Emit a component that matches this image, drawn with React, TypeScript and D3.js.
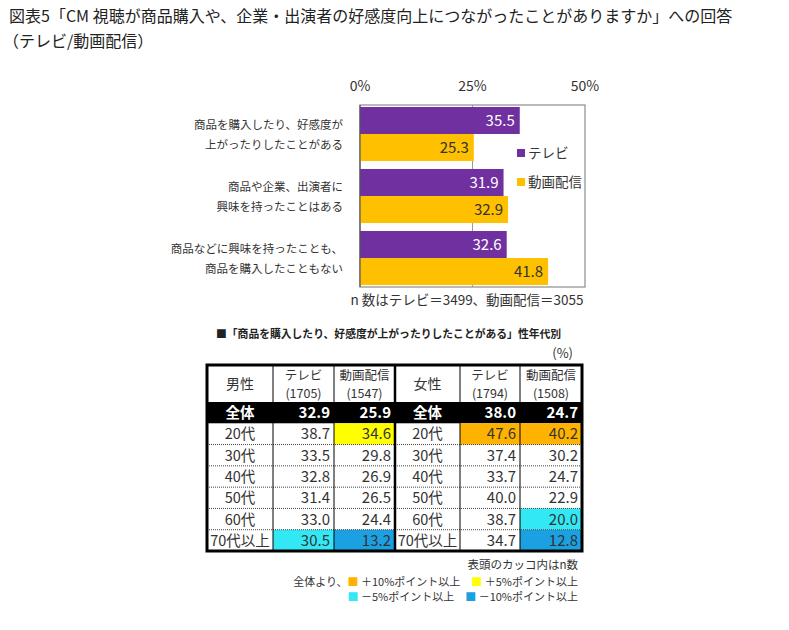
import React from 'react';
import * as d3 from 'd3';

const titleLine1 = '図表5「CM 視聴が商品購入や、企業・出演者の好感度向上につながったことがありますか」への回答';
const titleLine2 = '（テレビ/動画配信）';

const categories = ['c1', 'c2', 'c3'];
const categoryLabels = [
  ['商品を購入したり、好感度が', '上がったりしたことがある'],
  ['商品や企業、出演者に', '興味を持ったことはある'],
  ['商品などに興味を持ったことも、', '商品を購入したこともない'],
];
const seriesNames = ['テレビ', '動画配信'];
const tvValues = [35.5, 31.9, 32.6];
const vodValues = [25.3, 32.9, 41.8];
const xTicks = [0, 25, 50];
const nNote = 'n 数はテレビ＝3499、動画配信＝3055';

const tableTitle = '■「商品を購入したり、好感度が上がったりしたことがある」性年代別';
const ageGroups = ['全体', '20代', '30代', '40代', '50代', '60代', '70代以上'];
const maleTV = [32.9, 38.7, 33.5, 32.8, 31.4, 33.0, 30.5];
const maleVOD = [25.9, 34.6, 29.8, 26.9, 26.5, 24.4, 13.2];
const femaleTV = [38.0, 47.6, 37.4, 33.7, 40.0, 38.7, 34.7];
const femaleVOD = [24.7, 40.2, 30.2, 24.7, 22.9, 20.0, 12.8];
const headerGroups = ['男性', '女性'];
const headerSeries = [['テレビ', '(1705)'], ['動画配信', '(1547)'], ['テレビ', '(1794)'], ['動画配信', '(1508)']];

const FONT = '"Noto Sans CJK JP", "Noto Sans", sans-serif';
const PURPLE = '#7030A0';
const GOLD = '#FFC000';
const ORANGE = '#FFB300';
const YELLOW = '#FFFF00';
const CYAN = '#33E8F5';
const BLUE = '#1BA1E2';

function cellColor(v: number, base: number): string | null {
  const d = v - base;
  if (d >= 10) return ORANGE;
  if (d >= 5) return YELLOW;
  if (d <= -10) return BLUE;
  if (d <= -5) return CYAN;
  return null;
}

export default function App() {
  const x = d3.scaleLinear().domain([0, 50]).range([360, 585]);
  const y = d3.scaleBand().domain(categories).range([105, 287]).paddingInner(0.129).paddingOuter(0.032);
  const bh = y.bandwidth() / 2;

  // table layout
  const colX = [207, 273, 334, 395, 460, 520, 582];
  const headTop = 365;
  const headBottom = 402;
  const rowY = d3.scaleBand().domain(ageGroups).range([headBottom, 551]);
  const rh = rowY.bandwidth();
  const cols = [maleTV, maleVOD, femaleTV, femaleVOD];
  const valueCols = [1, 2, 4, 5];
  const baseFor = [tvValues[0], vodValues[0], tvValues[0], vodValues[0]];

  return (
    <svg width={789} height={630} style={{ position: 'absolute', left: 0, top: 0, background: '#fff' }} fontFamily={FONT}>
      <rect width={789} height={630} fill="#fff" />
      <text x={9} y={22} fontSize={16} fill="#222">{titleLine1}</text>
      <text x={3} y={47} fontSize={16} fill="#222">{titleLine2}</text>

      {/* bar chart */}
      {xTicks.map((t) => (
        <text key={t} x={x(t)} y={91} fontSize={14} textAnchor="middle" fill="#333">{t}%</text>
      ))}
      <rect x={x(0)} y={105} width={x(50) - x(0)} height={182} fill="none" stroke="#8c8c8c" strokeWidth={1.2} />
      <line x1={x(25)} x2={x(25)} y1={105} y2={287} stroke="#9a9a9a" strokeWidth={1} />
      {categories.map((c, i) => (
        <g key={c}>
          <rect x={x(0)} y={y(c)!} width={x(tvValues[i]) - x(0)} height={bh} fill={PURPLE} />
          <rect x={x(0)} y={y(c)! + bh} width={x(vodValues[i]) - x(0)} height={bh} fill={GOLD} />
          <text x={x(tvValues[i]) - 5} y={y(c)! + bh / 2 + 5.5} fontSize={15} textAnchor="end" fill="#fff">{tvValues[i].toFixed(1)}</text>
          <text x={x(vodValues[i]) - 5} y={y(c)! + bh * 1.5 + 5.5} fontSize={15} textAnchor="end" fill="#333">{vodValues[i].toFixed(1)}</text>
          <text x={343} y={y(c)! + bh - 5} fontSize={11.5} textAnchor="end" fill="#333">{categoryLabels[i][0]}</text>
          <text x={343} y={y(c)! + bh + 15} fontSize={11.5} textAnchor="end" fill="#333">{categoryLabels[i][1]}</text>
        </g>
      ))}
      <line x1={x(0)} x2={x(0)} y1={105} y2={287} stroke="#555" strokeWidth={1.2} />
      {seriesNames.map((s, i) => (
        <g key={s}>
          <rect x={517} y={149 + i * 29} width={8} height={8} fill={i === 0 ? PURPLE : GOLD} />
          <text x={528} y={158 + i * 29} fontSize={13.5} fill="#333">{s}</text>
        </g>
      ))}
      <text x={467} y={305} fontSize={13.5} textAnchor="middle" fill="#333">{nNote}</text>

      {/* table */}
      <text x={216} y={338} fontSize={10.8} fontWeight="bold" fill="#222">{tableTitle}</text>
      <text x={573} y={358} fontSize={13} textAnchor="end" fill="#333">(%)</text>

      {ageGroups.map((g, r) => {
        const ry = rowY(g)!;
        return (
          <g key={g}>
            {r === 0 && <rect x={colX[0]} y={ry} width={colX[6] - colX[0]} height={rh} fill="#000" />}
            {cols.map((col, ci) => {
              const c = r === 0 ? null : cellColor(col[r], baseFor[ci]);
              const cx0 = colX[valueCols[ci]];
              const cx1 = colX[valueCols[ci] + 1];
              return c ? <rect key={ci} x={cx0} y={ry} width={cx1 - cx0} height={rh} fill={c} /> : null;
            })}
          </g>
        );
      })}

      {/* dotted row separators */}
      {ageGroups.slice(2).map((g) => (
        <line key={g} x1={colX[0]} x2={colX[6]} y1={rowY(g)!} y2={rowY(g)!} stroke="#444" strokeWidth={1} strokeDasharray="1,1" />
      ))}
      {/* vertical thin lines */}
      {[1, 2, 4, 5].map((ci) => (
        <line key={ci} x1={colX[ci]} x2={colX[ci]} y1={headTop} y2={551} stroke="#000" strokeWidth={1} />
      ))}
      <line x1={colX[3]} x2={colX[3]} y1={headTop} y2={551} stroke="#000" strokeWidth={2.5} />
      <rect x={colX[0]} y={headTop} width={colX[6] - colX[0]} height={551 - headTop} fill="none" stroke="#000" strokeWidth={3} />

      {/* header */}
      {headerGroups.map((h, i) => (
        <text key={h} x={(colX[i * 3] + colX[i * 3 + 1]) / 2} y={389} fontSize={14} textAnchor="middle" fill="#333">{h}</text>
      ))}
      {headerSeries.map((hs, i) => {
        const ci = valueCols[i];
        const cx = (colX[ci] + colX[ci + 1]) / 2;
        return (
          <g key={i}>
            <text x={cx} y={379.5} fontSize={12.5} textAnchor="middle" fill="#333">{hs[0]}</text>
            <text x={cx} y={398} fontSize={12.5} textAnchor="middle" fill="#333">{hs[1]}</text>
          </g>
        );
      })}

      {/* rows text */}
      {ageGroups.map((g, r) => {
        const ty = rowY(g)! + rh / 2 + 5.5;
        const isTotal = r === 0;
        const fill = isTotal ? '#fff' : '#333';
        const fw = isTotal ? 'bold' : 'normal';
        return (
          <g key={g}>
            {[0, 3].map((lc) => (
              <text key={lc} x={(colX[lc] + colX[lc + 1]) / 2} y={ty} fontSize={14.5} fontWeight={fw} textAnchor="middle" fill={fill}>{g}</text>
            ))}
            {cols.map((col, ci) => (
              <text key={ci} x={colX[valueCols[ci] + 1] - 4} y={ty} fontSize={15} fontWeight={fw} textAnchor="end" fill={fill}>{col[r].toFixed(1)}</text>
            ))}
          </g>
        );
      })}

      {/* footer notes */}
      <text x={578} y={569} fontSize={11.5} textAnchor="end" fill="#333">表頭のカッコ内はn数</text>
      <text x={578} y={586} fontSize={11} textAnchor="end" fill="#333" xmlSpace="preserve">
        全体より、<tspan fill={ORANGE}>■</tspan> ＋10%ポイント以上　<tspan fill={YELLOW}>■</tspan> ＋5%ポイント以上
      </text>
      <text x={578} y={601} fontSize={11} textAnchor="end" fill="#333" xmlSpace="preserve">
        <tspan fill={CYAN}>■</tspan> －5%ポイント以上　<tspan fill={BLUE}>■</tspan> －10%ポイント以上
      </text>
    </svg>
  );
}
